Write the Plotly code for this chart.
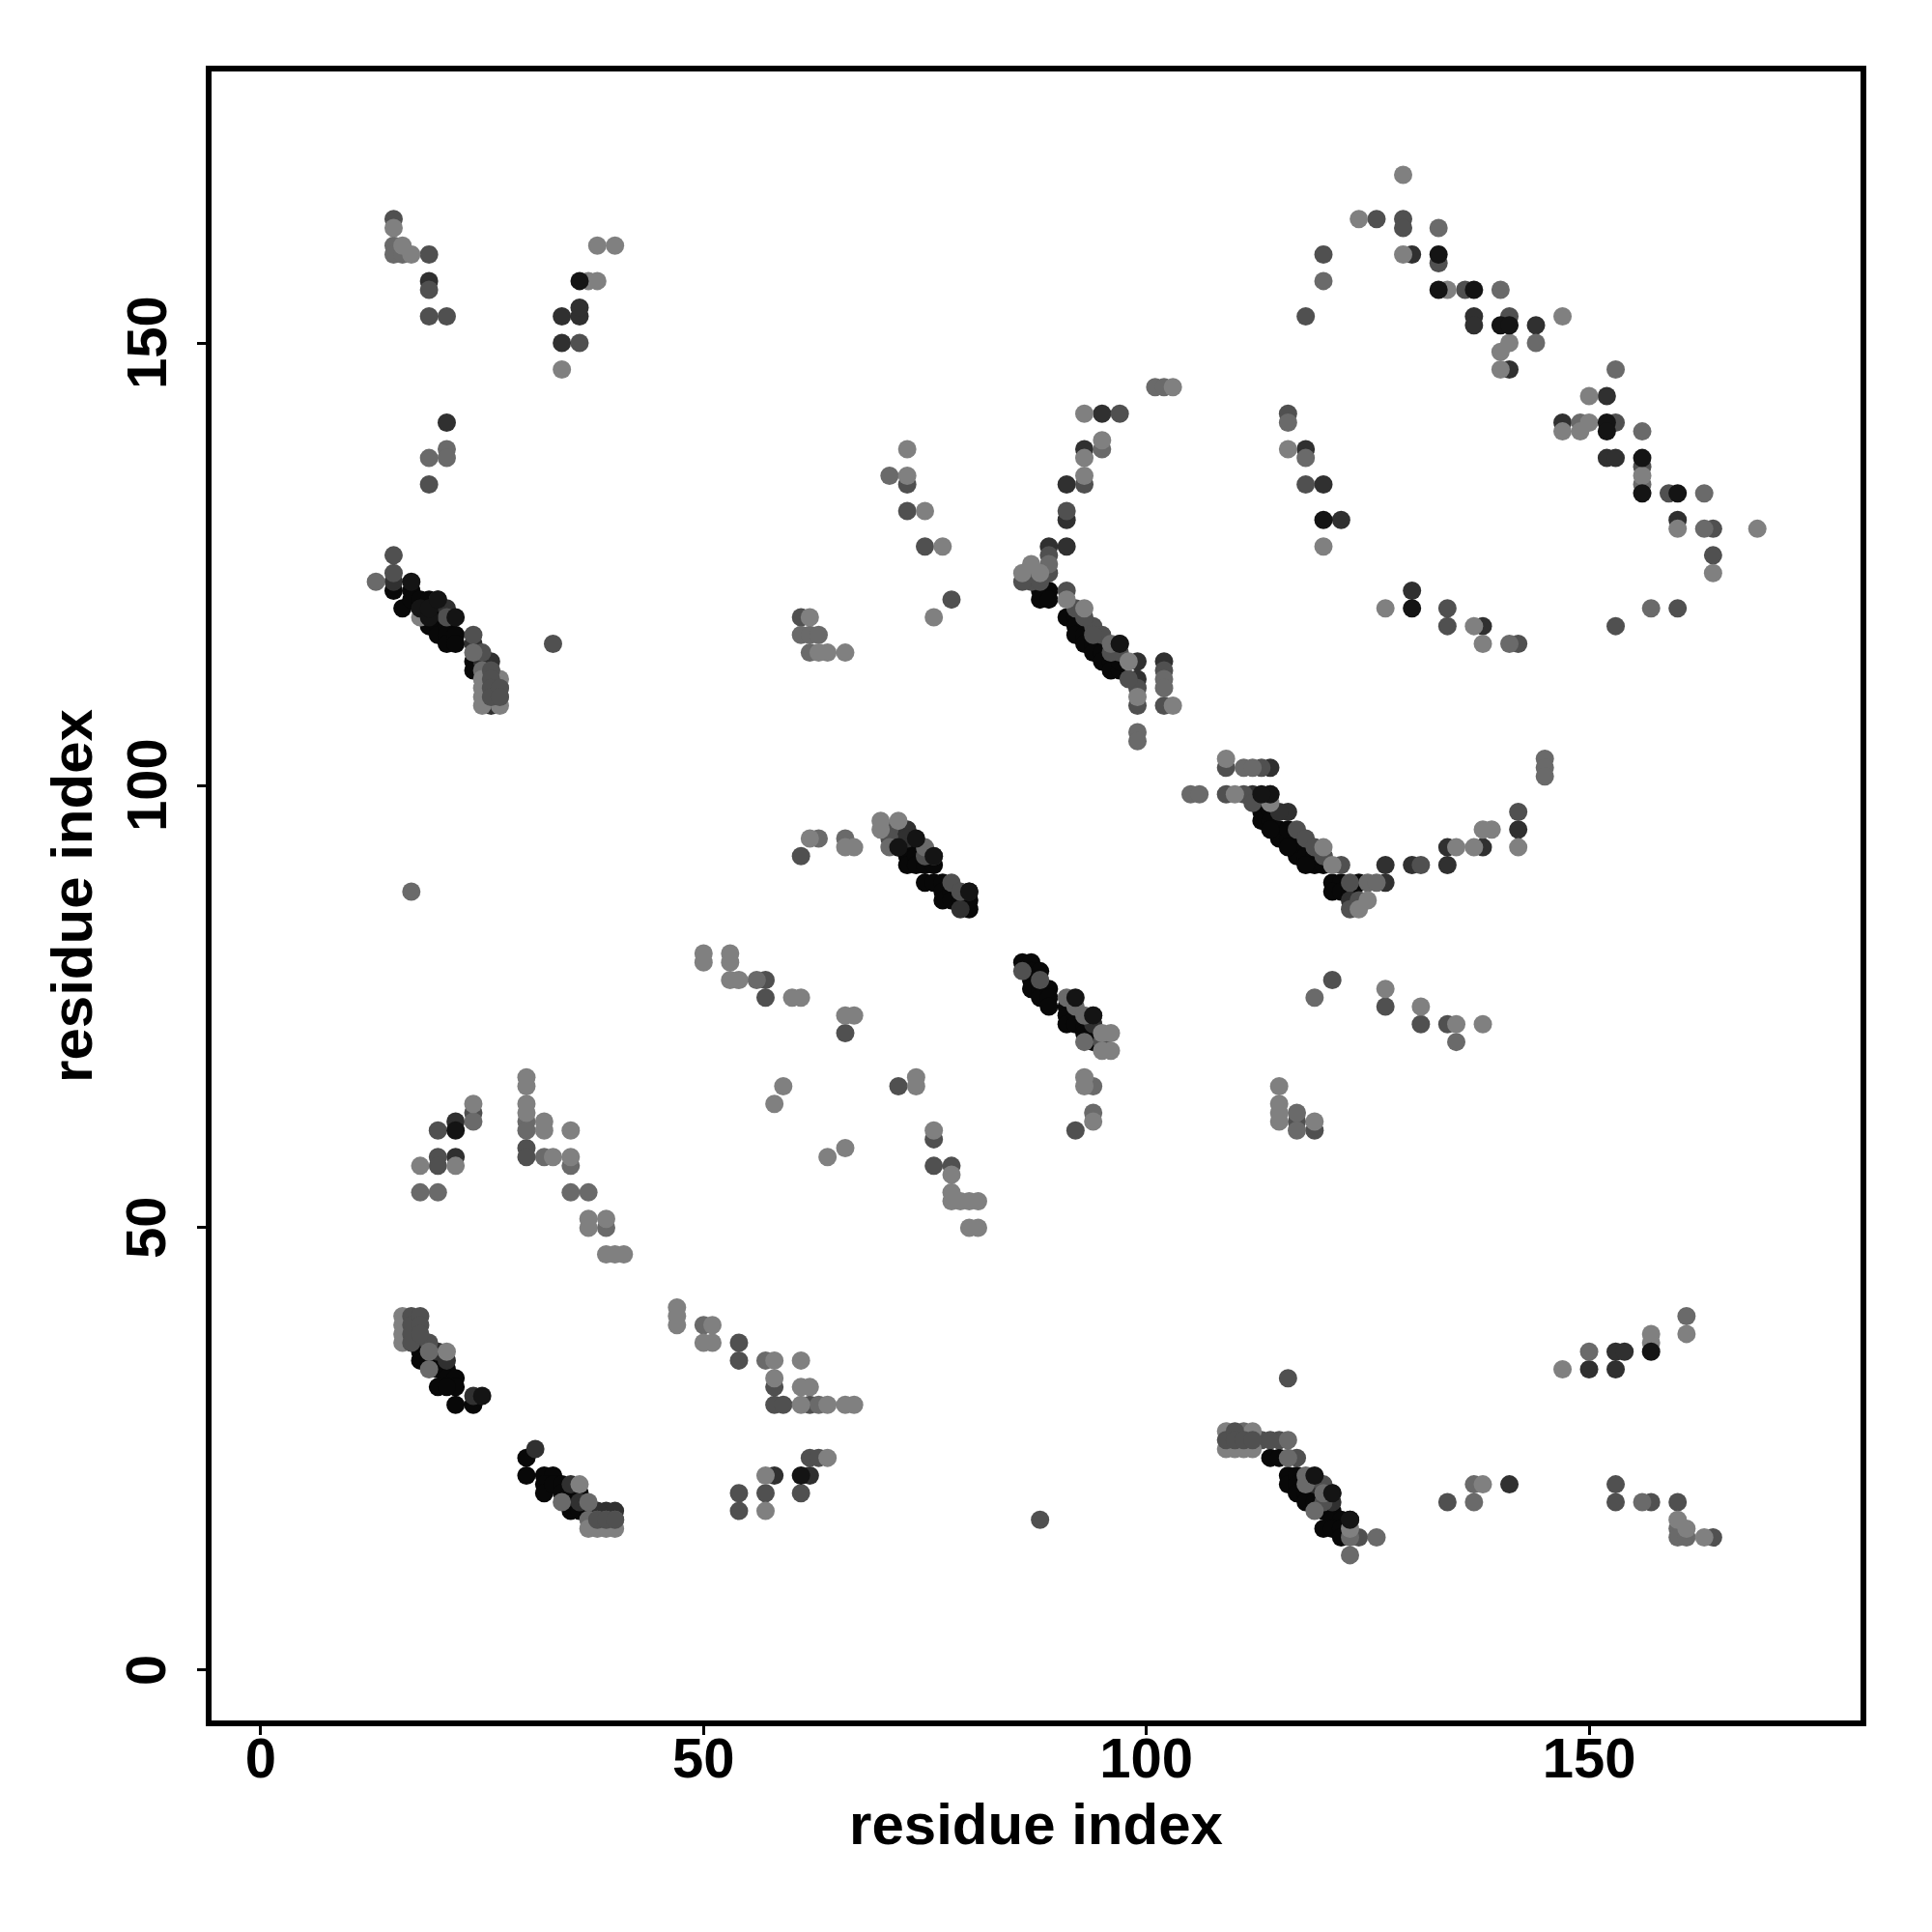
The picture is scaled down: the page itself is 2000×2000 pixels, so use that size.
import plotly.graph_objects as go

# (residue i, residue j) contacts grouped by grey shade
deep_points = [
    (15,122),(16,120),(17,122),(17,121),(18,121),(18,120),(19,121),(19,120),(19,119),(19,118),(20,119),(20,118),(20,117),(21,118),(21,117),(21,116),(22,117),(22,116),
    (24,114),(24,113),(18,36),(18,35),(19,36),(19,35),(20,35),(20,34),(21,34),(21,33),(22,33),(22,32),(20,32),(21,32),(22,30),(24,30),
    (30,24),(30,22),(32,22),(33,22),(32,21),(32,20),(33,21),(34,21),(34,20),(35,20),(35,19),(36,20),(35,18),(36,18),(37,18),
    (72,94),(72,93),(73,93),(73,92),(73,91),(74,93),(74,92),(74,91),(75,91),(76,91),(75,89),(76,89),(77,89),(77,88),(77,87),(78,88),(78,87),(79,87),(80,86),(80,87),
    (86,80),(87,80),(87,79),(87,78),(87,77),(88,79),(88,77),(88,76),(89,77),(89,76),(89,75),(91,75),(91,74),(91,73),(92,74),(92,73),(93,73),(93,72),(94,72),(94,71),
    (88,122),(88,121),(89,122),(89,121),(91,119),(92,119),(92,118),(92,117),(93,117),(93,116),(94,116),(94,115),(95,115),(95,114),(96,114),(96,113),(97,113),(97,114),
    (113,98),(113,97),(113,96),(114,97),(114,96),(115,95),(115,94),(116,94),(116,95),(117,93),(117,92),(118,93),(118,92),(119,92),(119,91),(120,91),(120,92),(114,95),(116,93),(118,91),
    (121,89),(122,89),(121,88),(122,88),(124,89),(123,88),
    (114,24),(115,24),(116,22),(116,21),(117,22),(117,21),(117,20),(118,20),(118,19),(119,20),(119,19),(120,18),(120,19),(121,18),(121,17),(122,17),(120,16),(121,16),(122,16),(122,15),(123,17),
]
dark_points = [
    (15,123),(20,121),(21,120),(24,116),(25,114),(26,114),(26,113),(26,112),(26,111),(26,110),(26,109),
    (22,62),(22,58),(20,36),(21,35),(24,31),(31,25),(35,21),(36,19),(39,18),(40,18),(38,18),
    (19,157),(36,153),(34,153),(34,150),(21,141),(36,154),(58,22),(62,22),(72,95),(73,95),(73,94),(80,88),(79,86),
    (95,142),(93,138),(91,134),(91,130),(89,127),(91,127),(97,116),(99,114),(99,112),(102,114),
    (130,160),(137,153),(137,152),(144,152),(141,147),(147,141),(152,144),(152,137),(153,137),(160,130),
    (118,138),(120,134),(122,130),(130,122),(138,118),(114,102),(112,99),(114,99),(116,97),(127,91),(130,91),(134,91),(134,93),(138,93),(142,95),(127,89),(123,87),
    (150,34),(153,36),(154,36),(153,34),(141,21),(121,20),(121,19),(94,73),(115,97),(119,21),
]
mid_dark_points = [
    (15,164),(19,160),(19,156),(19,153),(21,153),(15,126),(15,124),(24,117),(25,115),(21,119),(33,116),(36,150),(19,134),
    (73,134),(73,131),(75,127),(78,121),(61,119),(61,92),(20,61),(20,58),(20,57),(24,63),(30,59),(30,58),(19,37),
    (54,37),(54,35),(58,32),(58,30),(59,30),(62,30),(62,24),(63,24),(54,20),(57,20),(61,20),(54,18),(57,78),(57,76),(66,72),(72,66),(76,60),(76,57),(78,57),
    (71,95),(71,94),(75,92),(76,92),(78,89),(79,88),(86,79),(88,78),(94,74),(95,71),(99,111),(99,109),(102,113),(102,109),(89,126),(89,124),(87,123),(88,123),(86,123),(91,122),
    (92,120),(94,118),(95,117),(97,115),(98,112),(93,134),(97,142),(91,131),(94,117),(96,115),(93,119),
    (129,164),(129,163),(126,164),(133,159),(120,160),(118,153),(136,156),(141,153),(156,136),(159,133),(153,141),(164,129),(164,126),(116,142),(118,134),
    (134,120),(134,118),(142,116),(153,118),(160,120),(109,102),(113,102),(109,99),(111,99),(112,98),(117,95),(118,94),(122,91),(131,91),(142,97),(123,89),(123,86),(124,87),
    (119,93),(120,92),
    (121,78),(127,75),(131,73),(134,73),(92,61),(117,62),(119,61),(116,33),(88,17),(134,19),(153,21),(153,19),(157,19),(160,19),(164,15),(124,15),
    (113,26),(115,26),(114,26),(117,24),(120,19),(120,21),
]
mid_points = [
    (13,123),(15,161),(15,160),(16,160),(17,88),(19,137),(21,138),(21,137),(71,135),(61,117),(62,117),(62,115),(63,94),(66,94),(63,117),
    (24,62),(30,62),(30,61),(32,58),(35,57),(18,54),(20,54),(35,54),(37,54),(39,50),(19,34),(34,19),(37,19),(37,17),(38,17),(39,17),(40,17),
    (50,39),(57,35),(63,30),(71,93),(75,93),(91,76),(92,75),(93,74),(93,71),(99,106),(99,105),(102,112),(102,111),(89,125),(96,116),
    (120,157),(133,163),(140,156),(144,150),(153,147),(149,141),(156,140),(156,134),(163,133),(163,129),(116,141),(118,137),(141,116),(157,120),
    (101,145),(102,145),(95,138),(105,99),(106,99),(111,102),(112,102),(145,103),(145,102),(145,101),(125,89),(126,89),(119,76),(135,71),
    (94,66),(94,63),(117,63),(117,61),(161,40),(150,36),(137,19),(137,21),(156,19),(160,16),(160,15),(161,15),(123,13),(126,15),
    (111,27),(116,26),(116,24),(118,22),(120,20),(119,18),(123,15),(118,21),(56,78),
    (19,36),(25,113),(24,115),
]
light_points = [
    (15,163),(16,161),(17,160),(37,157),(38,157),(38,161),(40,161),(34,147),(73,138),(73,135),(75,131),(77,127),(76,119),(62,119),(63,115),(64,115),(66,115),(18,119),
    (24,64),(22,57),(18,57),(30,67),(30,66),(30,64),(30,63),(32,62),(32,61),(33,58),(35,61),(35,58),(37,51),(37,50),(39,51),(39,47),(40,47),(41,47),
    (16,40),(16,39),(16,38),(16,37),(21,36),(36,21),
    (37,16),(38,16),(39,16),(40,16),
    (47,41),(47,40),(47,39),(51,39),(50,37),(51,37),(58,35),(61,35),(58,33),(61,32),(62,32),(61,30),(64,30),(66,30),(67,30),(64,24),(57,22),(57,18),
    (50,81),(50,80),(53,81),(53,80),(53,78),(54,78),(60,76),(61,76),(66,74),(67,74),(59,66),(58,64),(64,58),(66,59),(74,66),(74,67),(76,61),(78,56),(78,54),(78,53),(79,53),(80,53),(81,53),(80,50),(81,50),
    (25,112),(25,111),(25,110),(25,109),(27,112),(27,111),(27,110),(27,109),(62,94),(66,93),(67,93),(70,96),(70,95),(72,96),
    (95,72),(96,72),(95,70),(96,70),(93,67),(93,66),(94,62),(115,66),(115,64),(115,63),(115,62),(119,62),
    (93,142),(95,139),(93,137),(93,135),(87,125),(86,124),(88,124),(91,121),(93,120),(98,114),(99,110),(103,109),(103,145),
    (129,169),(124,164),(129,160),(134,156),(147,153),(141,150),(140,149),(140,147),(150,144),(147,140),(149,140),(150,141),(156,135),(160,129),(169,129),(164,124),
    (116,138),(120,127),(127,120),(137,118),(138,116),(109,103),(110,99),(114,98),(120,93),(121,91),(135,93),(137,93),(138,95),(139,95),(142,93),(125,87),(124,86),
    (127,77),(131,75),(135,73),(138,73),(147,34),(157,38),(157,37),(161,38),(138,21),(160,17),(161,16),(163,15),
    (109,27),(112,27),(109,25),(110,25),(111,25),(112,25),(123,16),
]
front_mid_points = [
    (17,40),(17,39),(17,38),(17,37),(18,40),(18,39),(18,38),
    (26,113),(26,112),(26,111),(26,110),(27,111),(27,110),
    (109,26),(110,27),(110,26),(111,26),(112,26),
    (38,17),(39,17),(40,17),
]
front_points = [
    (17,123),(18,120),(19,119),(19,120),(22,119),(20,121),(72,93),(74,94),(76,92),(80,88),(92,76),(94,74),(36,157),(133,160),(133,156),(137,156),(140,152),(141,152),(152,141),(152,140),(156,137),(156,133),(160,133),(120,130),(130,120),(157,36),(61,22),(22,61),(25,31),
    (97,116),(114,99),(113,99),(119,22),(121,20),(123,17),
]

point_groups = [deep_points, dark_points, mid_dark_points, mid_points, light_points, front_mid_points, front_points]
group_colors = ["#080808", "#303030", "#505050", "#6a6a6a", "#808080", "#505050", "#141414"]
tick_values = [0, 50, 100, 150]

fig = go.Figure()
for pts, col in zip(point_groups, group_colors):
    fig.add_trace(go.Scatter(
        x=[p[0] for p in pts], y=[p[1] for p in pts], mode="markers",
        marker=dict(size=19, color=col, line=dict(width=0)),
        showlegend=False, cliponaxis=False,
    ))

tick_font = dict(family="Liberation Sans", size=58, color="black", weight="bold")
title_font = dict(family="Liberation Sans", size=60, color="black", weight="bold")
axis_common = dict(
    tickvals=tick_values, ticks="outside", ticklen=9, tickwidth=3, tickcolor="black",
    showline=True, linewidth=5.5, linecolor="black", mirror=True,
    showgrid=False, zeroline=False, tickfont=tick_font,
)
fig.update_xaxes(range=[-5.56, 180.65], ticklabelstandoff=-25,
                 title=dict(text="residue index", font=title_font, standoff=18), **axis_common)
fig.update_yaxes(range=[-5.68, 180.68], showticklabels=False,
                 title=dict(text="residue index", font=title_font, standoff=91), **axis_common)
for v in tick_values:
    fig.add_annotation(text=str(v), xref="paper", x=0, xshift=-68, yref="y", y=v, textangle=-90,
                       showarrow=False, font=tick_font, xanchor="center", yanchor="middle")
fig.update_layout(
    width=2000, height=2000, autosize=False, plot_bgcolor="white", paper_bgcolor="white",
    margin=dict(l=219, r=74, t=74, b=219, autoexpand=False),
)
fig.write_html("out.html", post_script="document.body.style.margin='0';", config={"displayModeBar": False})
